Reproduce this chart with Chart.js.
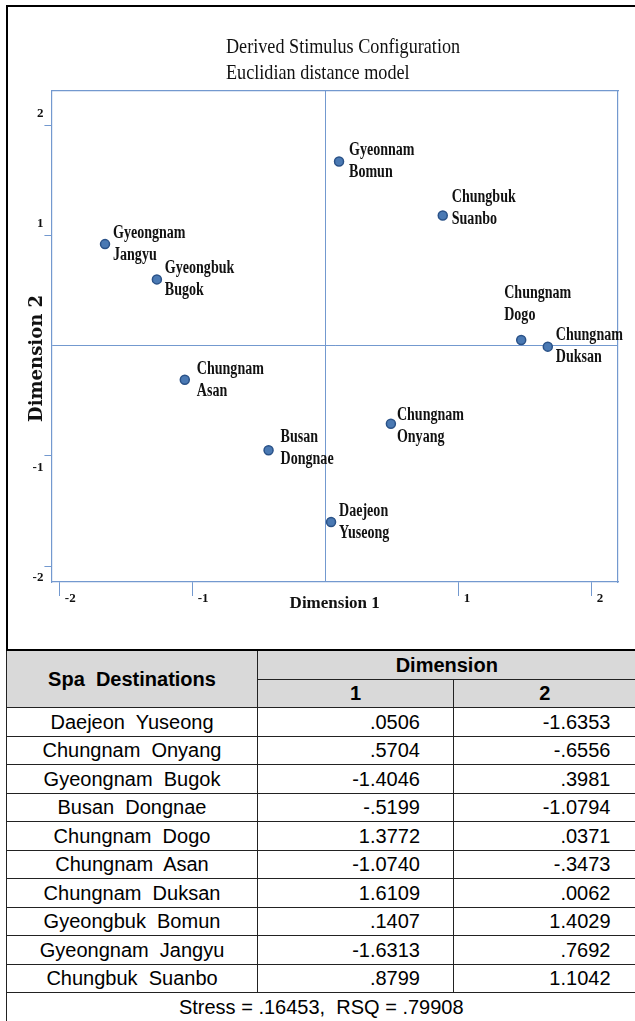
<!DOCTYPE html>
<html>
<head>
  <meta charset="utf-8" />
  <script src="https://cdn.jsdelivr.net/npm/chart.js@4.4.1/dist/chart.umd.min.js"></script>
  <style>
    html, body { margin: 0; padding: 0; background: #fff; width: 635px; height: 1021px; overflow: hidden; position: relative; }
    #frame { position: absolute; left: 6px; top: 5px; width: 627px; height: 644px; border-left: 2px solid #000; border-top: 2px solid #000; border-right: none; }
    #chart-box { position: absolute; left: 8px; top: 7px; width: 627px; height: 642px; }
    #tbl { position: absolute; left: 6px; top: 649px; border-collapse: collapse; table-layout: fixed; width: 629px;
           font-family: 'Liberation Sans', Arial, sans-serif; font-size: 20px; color: #000; }
    #tbl td, #tbl th { border: 1.5px solid #222; padding: 0; height: 27.5px; white-space: pre; line-height: 20px; }
    #tbl tr:first-child th { border-top: 2px solid #000; }
    #tbl th { background: #d9d9d9; font-weight: bold; text-align: center; }
    #tbl td.name { text-align: center; }
    #tbl td.num { text-align: right; padding-right: 33px; }
    #tbl td.num.last { padding-right: 25px; }
    #tbl .last { border-right: none; }
    #tbl td.foot { text-align: center; border-right: none; border-bottom: none; }
  </style>
</head>
<body>
<div id="frame"></div>
<div id="chart-box"><canvas id="mds"></canvas></div>
<table id="tbl">
  <colgroup><col style="width:251px"><col style="width:196px"><col style="width:182px"></colgroup>
  <thead>
    <tr><th rowspan="2">Spa  Destinations</th><th colspan="2" class="last">Dimension</th></tr>
    <tr><th>1</th><th class="last">2</th></tr>
  </thead>
  <tbody id="tbody"></tbody>
</table>

<script>
/* ---------- Data ---------- */
// table (stimulus coordinates)
const destinations = ['Daejeon Yuseong', 'Chungnam Onyang', 'Gyeongnam Bugok', 'Busan Dongnae', 'Chungnam Dogo',
                      'Chungnam Asan', 'Chungnam Duksan', 'Gyeongbuk Bomun', 'Gyeongnam Jangyu', 'Chungbuk Suanbo'];
const dim1Text = ['.0506', '.5704', '-1.4046', '-.5199', '1.3772', '-1.0740', '1.6109', '.1407', '-1.6313', '.8799'];
const dim2Text = ['-1.6353', '-.6556', '.3981', '-1.0794', '.0371', '-.3473', '.0062', '1.4029', '.7692', '1.1042'];
const stressText = '.16453';
const rsqText = '.79908';

// points as drawn in the configuration plot
const plotNames = ['Daejeon Yuseong', 'Chungnam Onyang', 'Gyeongbuk Bugok', 'Busan Dongnae', 'Chungnam Dogo',
                   'Chungnam Asan', 'Chungnam Duksan', 'Gyeonnam Bomun', 'Gyeongnam Jangyu', 'Chungbuk Suanbo'];
const plotX = [0.04, 0.49, -1.27, -0.43, 1.47, -1.06, 1.67, 0.10, -1.66, 0.88];
const plotY = [-1.60, -0.71, 0.60, -0.95, 0.05, -0.31, -0.01, 1.67, 0.92, 1.18];

const tickVals = [-2, -1, 0, 1, 2];
const titleLines = ['Derived Stimulus Configuration', 'Euclidian distance model'];

/* ---------- Table ---------- */
const tbody = document.getElementById('tbody');
destinations.forEach((d, i) => {
  const tr = document.createElement('tr');
  tr.innerHTML = `<td class="name">${d.replace(' ', '  ')}</td><td class="num">${dim1Text[i]}</td><td class="num last">${dim2Text[i]}</td>`;
  tbody.appendChild(tr);
});
const foot = document.createElement('tr');
foot.innerHTML = `<td class="foot" colspan="3">Stress = ${stressText},  RSQ = ${rsqText}</td>`;
tbody.appendChild(foot);

/* ---------- Chart ---------- */
const SERIF = "'Liberation Serif', 'Times New Roman', serif";
const LINE = '#7399cf';
const CLEAR = 'rgba(0,0,0,0)';
const setTicks = s => { s.ticks = tickVals.map(v => ({ value: v })); };

// label nudges (dx, dy of first line) where the plot moves a label off its default spot
const labelShift = { 1: [6, -8], 3: [12, -13], 4: [-17, -47], 5: [12, -10], 7: [10, -11], 9: [9, -18] };

// narrow serif text, as in the original SPSS output
function condensedText(ctx, lines, x, y, size, weight, sx, gap) {
  ctx.save();
  ctx.font = `${weight} ${size}px ${SERIF}`;
  ctx.fillStyle = '#111';
  ctx.textBaseline = 'middle';
  ctx.textAlign = 'left';
  ctx.translate(x, y);
  ctx.scale(sx, 1);
  lines.forEach((t, k) => ctx.fillText(t, 0, k * gap));
  ctx.restore();
}

const annotations = {
  id: 'annotations',
  afterDatasetsDraw(chart) {
    const meta = chart.getDatasetMeta(0);
    meta.data.forEach((pt, i) => {
      const s = labelShift[i] || [8, -11];
      condensedText(chart.ctx, plotNames[i].split(' '), pt.x + s[0], pt.y + s[1], 18, 'bold', 0.78, 22);
    });
  },
  afterDraw(chart) {
    condensedText(chart.ctx, titleLines, 218, 40, 21, 'normal', 0.865, 26);
  }
};

new Chart(document.getElementById('mds'), {
  type: 'scatter',
  data: {
    datasets: [{
      data: plotX.map((x, i) => ({ x, y: plotY[i] })),
      pointRadius: 4.5, pointHoverRadius: 4.5,
      backgroundColor: '#4a79b3', borderColor: '#2a5288', borderWidth: 1.5
    }]
  },
  options: {
    responsive: true, maintainAspectRatio: false, animation: false,
    layout: { padding: { left: 17, right: 17, top: 84, bottom: 35 } },
    plugins: {
      legend: { display: false },
      tooltip: { enabled: false },
      title: { display: false }
    },
    scales: {
      x: {
        type: 'linear', position: 'bottom', min: -2.063, max: 2.198,
        afterBuildTicks: setTicks,
        grid: {
          color: c => (c.tick && c.tick.value === 0) ? LINE : CLEAR,
          tickColor: c => (c.tick && c.tick.value === 0) ? CLEAR : LINE,
          tickLength: 14, lineWidth: 1
        },
        border: { color: LINE, width: 1.2 },
        ticks: {
          align: 'start', labelOffset: 5, padding: -5, maxRotation: 0, autoSkip: false, color: '#111',
          font: { family: SERIF, size: 13, weight: 'bold' },
          callback: v => v === 0 ? '' : String(v)
        },
        title: {
          display: true, text: 'Dimension 1', color: '#111',
          font: { family: SERIF, size: 17, weight: 'bold' },
          padding: { top: -8, bottom: 0 }
        }
      },
      y: {
        type: 'linear', position: 'left', min: -2.145, max: 2.309,
        afterBuildTicks: setTicks,
        grid: {
          color: c => (c.tick && c.tick.value === 0) ? LINE : CLEAR,
          tickColor: c => (c.tick && c.tick.value === 0) ? CLEAR : LINE,
          tickLength: 7, lineWidth: 1
        },
        border: { color: LINE, width: 1.2 },
        ticks: {
          padding: 1, autoSkip: false, color: '#111',
          font: { family: SERIF, size: 13, weight: 'bold', lineHeight: 1.8 },
          callback: v => v === 0 ? '' : (v > 0 ? [String(v), ''] : ['', String(v)])
        },
        title: {
          display: true, text: 'Dimension 2       ', color: '#111',
          font: { family: "'DejaVu Serif', serif", size: 18, weight: 'bold' },
          padding: { top: 2, bottom: -17 }
        }
      },
      xTop: {
        type: 'linear', position: 'top', display: true,
        grid: { display: false, drawTicks: false }, ticks: { display: false },
        border: { color: LINE, width: 1.2 }
      },
      yRight: {
        type: 'linear', position: 'right', display: true,
        grid: { display: false, drawTicks: false }, ticks: { display: false },
        border: { color: LINE, width: 1.2 }
      }
    }
  },
  plugins: [annotations]
});
</script>
</body>
</html>
